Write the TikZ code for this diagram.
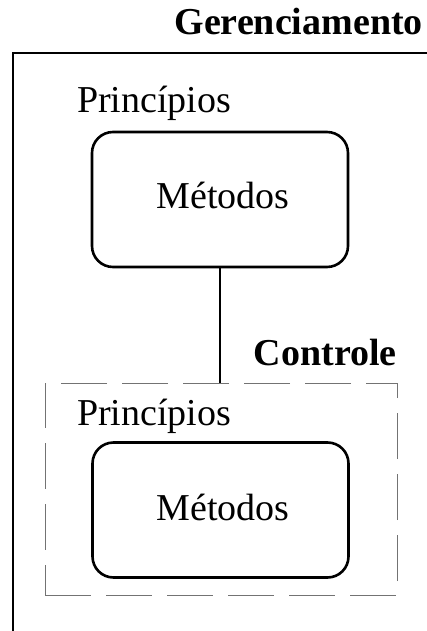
\documentclass[tikz,border=0pt]{standalone}
\usepackage{fontspec}
\setmainfont{Liberation Serif}
\begin{document}
\begin{tikzpicture}[x=1pt,y=-1pt,
  txt/.style={font=\fontsize{38}{40}\selectfont, inner sep=0pt},
  bold/.style={txt, font=\fontsize{38}{40}\selectfont\bfseries},
  methodbox/.style={draw, line width=2.6pt, rounded corners=21pt,
    minimum width=256pt, minimum height=135pt, inner sep=0pt},
  ctlbox/.style={draw=black!55, line width=1pt, dash pattern=on 46pt off 15pt,
    minimum width=352pt, minimum height=212pt, inner sep=0pt},
  link/.style={line width=2pt}]
  \useasboundingbox (0,0) rectangle (427,631);

  % outer management frame (only its top and left sides fall inside the page)
  \coordinate (frameTL) at (13,53);
  \coordinate (frameB) at (13,631);
  \coordinate (frameR) at (427,53);
  \draw[line width=2pt] (frameB) -- (frameTL) -- (frameR);
  \node[bold, anchor=base east] (ger) at (423,35) {Gerenciamento};

  % upper level: principles and methods
  \node[txt, anchor=base west] (p1) at (77,113) {Princípios};
  \node[methodbox] (m1) at (220,199.5) {};
  \node[txt, anchor=base] (t1) at (223,208) {Métodos};

  % control level (dashed)
  \node[ctlbox] (ctl) at (221,489) {};
  \node[bold, anchor=base east] (con) at (397,365) {Controle};
  \node[txt, anchor=base west] (p2) at (77,425) {Princípios};
  \node[methodbox] (m2) at (220.5,510) {};
  \node[txt, anchor=base] (t2) at (223,520) {Métodos};

  \draw[link] (m1.south) -- (m1.south |- ctl.north);
\end{tikzpicture}
\end{document}
